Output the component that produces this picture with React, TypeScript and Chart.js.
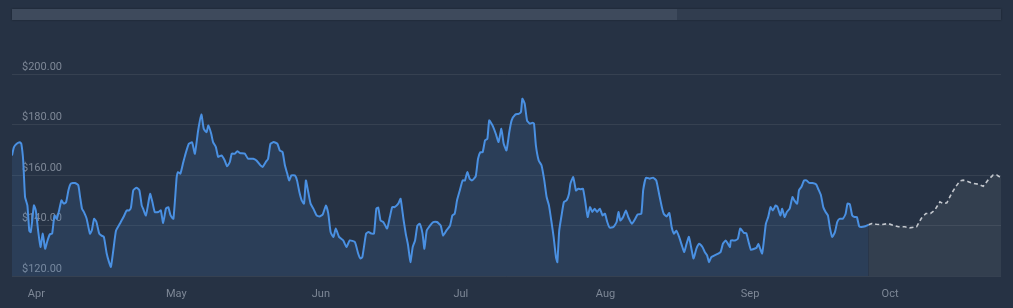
import React, { useEffect, useRef } from "react";
import { Chart, registerables } from "chart.js";

Chart.register(...registerables);

// Day offsets (0 = Mar 27) and prices for the historical series
const histDays = [
  0, 0.4, 1, 1.7, 2, 2.4, 2.8, 3.3, 3.7, 4, 4.3, 4.7, 5.1, 5.6, 6.1, 6.6, 7.1, 7.6, 8.1, 8.6,
  9.1, 9.6, 10.1, 10.6, 11.1, 11.6, 12.1, 12.6, 13.5, 14.2, 14.6, 15, 15.4, 16, 16.7, 17.1, 17.6, 18.1, 18.7, 19.2,
  19.7, 20.3, 20.8, 21.2, 21.7, 22.3, 23.1, 23.9, 24.6, 25.1, 25.5, 26, 26.7, 27.3, 27.8, 28.1, 28.7, 29.2, 29.6, 30.1,
  30.6, 31.4, 31.9, 32.4, 33, 33.5, 34, 34.6, 35.3, 35.6, 36.1, 36.7, 37.1, 37.9, 38.6, 39.2, 39.9, 40.6, 41.1, 41.7,
  42.1, 42.7, 43.1, 43.7, 44.2, 44.9, 45.6, 46.1, 46.7, 47.1, 47.8, 48.3, 48.9, 49.9, 50.6, 51.7, 52.4, 53.1, 53.7, 54.4,
  54.9, 55.4, 56.1, 56.9, 57.4, 58, 58.5, 59, 59.4, 59.9, 60.6, 61.1, 61.6, 62.1, 62.6, 63, 63.5, 64, 64.6, 65.3,
  65.9, 66.6, 67.3, 67.8, 68.3, 68.9, 69.4, 70.1, 71, 71.7, 72.4, 73.5, 74.2, 74.7, 75.1, 75.9, 76.4, 77.1, 77.6, 78.1,
  78.5, 79, 79.6, 80.4, 81, 81.5, 82, 82.8, 83.3, 83.9, 84.4, 84.9, 85.4, 85.9, 86.4, 86.9, 87.4, 88, 88.4, 88.9,
  89.6, 90.3, 91.1, 91.9, 92.4, 93.1, 93.9, 94.4, 94.9, 95.4, 96, 96.6, 97.1, 97.6, 98.1, 98.6, 99.4, 99.9, 100.4, 100.9,
  101.4, 101.9, 102.3, 103, 103.7, 104.3, 104.9, 105.4, 106, 106.6, 107.1, 107.9, 108.6, 109.1, 109.4, 109.9, 110.4, 111, 111.6, 111.9,
  112.3, 112.9, 113.5, 114.1, 114.6, 115.1, 115.6, 116.1, 116.6, 116.9, 117.3, 117.8, 118.3, 118.9, 119.4, 119.7, 120.3, 120.9, 121.4, 121.9,
  122.4, 122.9, 123.4, 123.9, 124.4, 124.9, 125.4, 126, 126.6, 127.1, 127.6, 128.1, 128.9, 129.6, 130, 130.4, 131, 131.6, 132.1, 132.9,
  133.6, 134.1, 134.9, 135.3, 135.9, 136.7, 137.4, 138.1, 138.7, 139.3, 139.7, 140.3, 140.9, 141.4, 141.9, 142.4, 143, 143.7, 144.1, 144.6,
  145.1, 145.7, 146.1, 146.7, 147.3, 148, 148.5, 149, 149.4, 149.9, 150.6, 151.4, 151.9, 152.4, 153, 153.4, 153.9, 154.1, 155, 155.6,
  156.1, 156.9, 157.4, 157.9, 158.4, 159.1, 159.6, 160, 160.3, 160.8, 161.1, 161.6, 162.1, 162.6, 163.1, 163.7, 164.1, 164.7, 165.1, 165.6,
  166.1, 166.7, 167.3, 167.7, 168.3, 168.7, 169.2, 169.8, 170.3, 170.9, 171.6, 172.4, 172.8, 173.4, 173.9, 174.4, 174.9, 175.3, 175.8, 176.4,
  176.9, 177.4, 178.1, 178.7, 179.1, 179.6, 180.1, 180.6, 181.1, 181.6, 182.1, 182.9, 183.6,
];
const histPrices = [
  167.8, 171, 172.4, 173, 172.4, 165.8, 151.3, 148, 138, 137.4, 141.4, 148, 146, 138, 131.5, 136.8, 130.8, 134, 136.5, 136.8,
  144, 142.7, 146, 150, 148.7, 149.3, 154, 156.6, 156.9, 156, 151.3, 146.7, 145.4, 142.7, 136.8, 138, 142.7, 141.4, 136.8, 136,
  135.5, 128.9, 125.5, 123.6, 130, 138, 140.7, 143.4, 146, 146, 147.1, 154, 155, 154, 148, 146.7, 144, 148.7, 152.6, 149.3,
  145.4, 145.4, 146, 141, 146.7, 147.3, 144, 142.7, 159.2, 161.2, 160.6, 165, 167.8, 172.4, 173, 168.5, 177.7, 184, 178.4, 177,
  179.7, 176.4, 173.1, 171.1, 167.2, 167.8, 165.8, 163.5, 165.2, 168.5, 168.5, 169.5, 168.7, 168.5, 166.5, 166.5, 165.8, 164.2, 163.2, 165.2,
  166.5, 172.4, 173.1, 172.4, 169.8, 169.1, 163.9, 160.6, 157.9, 159.9, 159.9, 157.9, 153.3, 150, 148.7, 157.9, 153.3, 148.7, 146.7, 144,
  143.6, 144.4, 148, 144.7, 137.4, 135.5, 138.8, 135.5, 134.1, 131.5, 134.1, 133.5, 128.9, 126.9, 127.5, 136.8, 137.4, 136.8, 136.8, 146.7,
  147.1, 142, 141.4, 138.8, 143.4, 147.3, 147.3, 148.7, 150.6, 142.7, 136.8, 132.2, 125.5, 131.5, 134.1, 140, 140.7, 136.8, 130.8, 138,
  140, 141.4, 141.4, 140, 136.1, 138, 140, 144, 144.7, 150, 154, 157.9, 157.9, 161.2, 158.6, 157.9, 159.5, 166.5, 169.1, 169.1,
  173.8, 174.4, 181.7, 179.7, 176.4, 173.1, 178.4, 172.4, 169.8, 177.1, 181.7, 184, 184.3, 185, 190.3, 188.3, 181.7, 180.4, 180.8, 180.4,
  171.8, 165.8, 163.9, 157.9, 151.3, 148, 142, 135.5, 127.5, 125.5, 138, 144, 149.3, 150, 152.6, 156.6, 159.2, 153.9, 154.6, 154.4,
  154.6, 149.3, 143.4, 147.3, 145.4, 146.7, 145.4, 146.7, 144, 144.7, 141.4, 139.2, 139.4, 141.4, 145.4, 142, 143.4, 146, 143.4, 140.7,
  142.7, 144.4, 144.7, 154, 159, 158.6, 159, 157.9, 152.6, 147.3, 144.7, 143.6, 145, 139.4, 136.8, 138, 135.5, 131.5, 129.5, 132.8,
  135.5, 130.2, 126.9, 130.8, 132.8, 131.5, 129.5, 128.2, 125.5, 127.5, 128.2, 128.9, 129.5, 132.8, 134.1, 133, 131.5, 134.1, 134.1, 134.8,
  138.8, 137.1, 137, 133.5, 130.4, 130.8, 131.2, 132.8, 131.2, 128.9, 132.8, 140.7, 143.4, 147.3, 146, 148, 147.3, 144, 146.7, 143.4,
  145.4, 146.7, 151.3, 150, 148.7, 154, 155.3, 157.9, 157.9, 156.9, 156.9, 156.3, 154.6, 152, 147.3, 145.4, 144, 139.4, 135.5, 137.4,
  141.4, 142.7, 142.7, 144.7, 148.7, 148.4, 144, 143.4, 143.4, 139.7, 139.4, 139.7, 140.3,
];

// Forecast series
const fcDays = [
  183.6, 184.3, 185.3, 186.4, 187.8, 188.9, 190, 191.4, 192.4, 193.9, 194.9, 195.9, 196.9, 197.8, 198.9,
  199.6, 200.4, 201.4, 202.3, 203.2, 203.9, 205, 206, 207.1, 208.2, 209.2, 210.3, 211.1, 212,
];
const fcPrices = [
  140.3, 140.8, 140.5, 140.4, 140.8, 140.1, 139.5, 139.5, 139.1, 139.5, 142.8, 144.8, 144.8, 146.1, 149.4,
  148.7, 149, 152.7, 155.4, 157.7, 158, 157.4, 156.7, 156.4, 155.6, 158, 160, 160, 159,
];

// Month tick positions (day offsets) and labels
const monthDays = [5, 35, 66, 96, 127, 158, 188];
const monthLabels = ["Apr", "May", "Jun", "Jul", "Aug", "Sep", "Oct"];

// Y tick values
const yTicks = [120, 140, 160, 180, 200];

const BG = "#263244";

export default function App() {
  const ref = useRef<HTMLCanvasElement | null>(null);

  useEffect(() => {
    if (!ref.current) return;
    const hist = histDays.map((d, i) => ({ x: d, y: histPrices[i] }));
    const fc = fcDays.map((d, i) => ({ x: d, y: fcPrices[i] }));
    const chart = new Chart(ref.current, {
      type: "line",
      data: {
        datasets: [
          {
            data: hist,
            borderColor: "#4a90e2",
            borderWidth: 2,
            backgroundColor: "rgba(74,144,226,0.13)",
            fill: "start",
            pointRadius: 0,
            tension: 0.15,
          },
          {
            data: fc,
            borderColor: "#c3c7cd",
            borderWidth: 1.6,
            borderDash: [4, 3],
            backgroundColor: "rgba(190,195,205,0.09)",
            fill: "start",
            pointRadius: 0,
            tension: 0,
          },
        ],
      },
      options: {
        responsive: false,
        animation: false,
        layout: { padding: { left: 12, right: 12, top: 49, bottom: 0 } },
        plugins: { legend: { display: false }, tooltip: { enabled: false } },
        scales: {
          x: {
            type: "linear",
            min: 0,
            max: 212,
            grid: { display: false, drawTicks: false },
            border: { display: false },
            afterBuildTicks: (scale: any) => {
              scale.ticks = monthDays.map((v) => ({ value: v }));
            },
            afterFit: (scale: any) => {
              scale.height = 32;
            },
            ticks: {
              padding: 12,
              labelOffset: 1,
              color: "#7d8796",
              font: { family: "Roboto", size: 11 },
              maxRotation: 0,
              autoSkip: false,
              callback: (v: any) => {
                const i = monthDays.indexOf(Number(v));
                return i >= 0 ? monthLabels[i] : "";
              },
            },
          },
          y: {
            min: 120,
            max: 210,
            grid: { color: "rgba(255,255,255,0.075)", drawTicks: false },
            border: { display: false },
            afterBuildTicks: (scale: any) => {
              scale.ticks = yTicks.map((v) => ({ value: v }));
            },
            afterFit: (scale: any) => {
              scale.width = 0;
            },
            ticks: {
              mirror: true,
              padding: 10,
              labelOffset: -7,
              color: "#7d8796",
              font: { family: "Roboto", size: 11 },
              callback: (v: any) => "$" + Number(v).toFixed(2),
            },
          },
        },
      },
    });
    return () => chart.destroy();
  }, []);

  return (
    <div style={{ position: "fixed", left: 0, top: 0, width: 1013, height: 308, background: BG, overflow: "hidden" }}>
      <div style={{ position: "absolute", left: 12, top: 9, width: 989, height: 11, background: "#313d4f", boxShadow: "0 0 2px rgba(0,0,0,0.35)" }} />
      <div style={{ position: "absolute", left: 12, top: 9, width: 665, height: 11, background: "#3e4a5c" }} />
      <canvas ref={ref} width={1013} height={308} style={{ position: "absolute", left: 0, top: 0 }} />
    </div>
  );
}
